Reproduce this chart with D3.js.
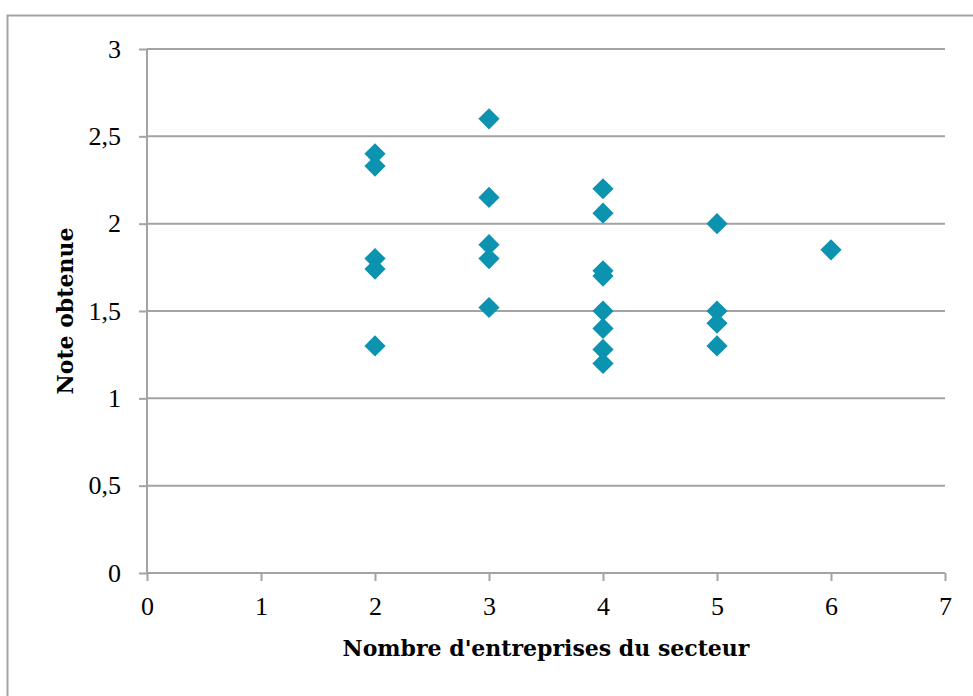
<!DOCTYPE html>
<html>
<head>
<meta charset="utf-8">
<script src="https://cdn.jsdelivr.net/npm/d3@7"></script>
<style>
  html, body { margin: 0; padding: 0; background: #fff; }
  svg { display: block; }
</style>
</head>
<body>
<script>
// Number of firms in the sector (x) and score obtained (y)
const entreprises = [2, 2, 2, 2, 2, 3, 3, 3, 3, 3, 4, 4, 4, 4, 4, 4, 4, 4, 5, 5, 5, 5, 6];
const notes = [2.40, 2.33, 1.80, 1.74, 1.30, 2.60, 2.15, 1.88, 1.80, 1.52, 2.20, 2.06, 1.73, 1.70, 1.50, 1.40, 1.28, 1.20, 2.00, 1.50, 1.43, 1.30, 1.85];
const xTicks = [0, 1, 2, 3, 4, 5, 6, 7];
const yTicks = [0, 0.5, 1, 1.5, 2, 2.5, 3];
const xTitle = "Nombre d'entreprises du secteur";
const yTitle = "Note obtenue";

const W = 973, H = 696;
const plot = { left: 147, right: 945, top: 49, bottom: 573 };
const gridColor = "#a3a3a3";
const markColor = "#0b93b0";
const tickFont = "Liberation Serif, serif";
const titleFont = "DejaVu Serif, serif";

const svg = d3.select("body").append("svg").attr("width", W).attr("height", H);

// chart frame
svg.append("rect")
  .attr("x", 7.5).attr("y", 15.5)
  .attr("width", 1000).attr("height", 1000)
  .attr("fill", "#fff").attr("stroke", gridColor).attr("stroke-width", 2);

const x = d3.scaleLinear().domain([0, 7]).range([plot.left, plot.right]);
const y = d3.scaleLinear().domain([0, 3]).range([plot.bottom, plot.top]);
const fmt = d => String(d).replace(".", ",");

// horizontal gridlines
svg.append("g").selectAll("line")
  .data(yTicks.filter(d => d > 0))
  .join("line")
  .attr("x1", plot.left).attr("x2", plot.right)
  .attr("y1", d => y(d)).attr("y2", d => y(d))
  .attr("stroke", gridColor).attr("stroke-width", 2);

const xAxis = svg.append("g")
  .attr("transform", `translate(0,${plot.bottom})`)
  .call(d3.axisBottom(x).tickValues(xTicks).tickFormat(fmt).tickSize(8).tickPadding(16));
const yAxis = svg.append("g")
  .attr("transform", `translate(${plot.left},0)`)
  .call(d3.axisLeft(y).tickValues(yTicks).tickFormat(fmt).tickSize(8).tickPadding(18));

[xAxis, yAxis].forEach(a => {
  a.attr("font-size", 26).attr("font-family", tickFont);
  a.selectAll(".tick text").attr("fill", "#000");
  a.select(".domain").attr("stroke", gridColor).attr("stroke-width", 2);
  a.selectAll(".tick line").attr("stroke", gridColor).attr("stroke-width", 2);
});
xAxis.select(".domain").attr("d", `M${plot.left},0H${plot.right}`);
yAxis.select(".domain").attr("d", `M0,${plot.top}V${plot.bottom}`);

// diamond markers
const pts = entreprises.map((e, i) => ({ x: e, y: notes[i] }));
const diamond = d3.symbol().type(d3.symbolSquare).size(225);
svg.append("g").selectAll("path")
  .data(pts)
  .join("path")
  .attr("d", diamond)
  .attr("transform", d => `translate(${x(d.x)},${y(d.y)}) rotate(45)`)
  .attr("fill", markColor);

// axis titles
svg.append("text")
  .attr("x", (plot.left + plot.right) / 2).attr("y", 656)
  .attr("text-anchor", "middle")
  .attr("font-family", titleFont)
  .attr("font-weight", "bold").attr("font-size", 22)
  .text(xTitle);
svg.append("text")
  .attr("transform", `translate(73,${(plot.top + plot.bottom) / 2}) rotate(-90)`)
  .attr("text-anchor", "middle")
  .attr("font-family", titleFont)
  .attr("font-weight", "bold").attr("font-size", 22)
  .text(yTitle);
</script>
</body>
</html>
